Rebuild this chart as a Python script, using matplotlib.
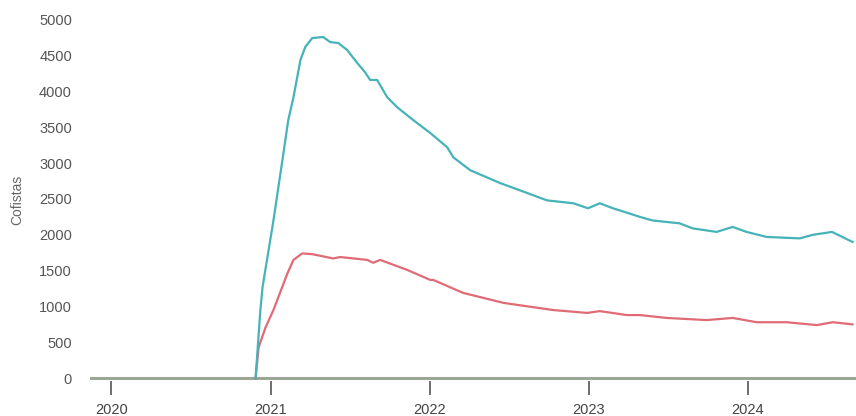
import numpy as np
import pandas as pd
import matplotlib
matplotlib.use("Agg")
import matplotlib.pyplot as plt

plt.rcParams['font.family'] = ['Liberation Sans', 'DejaVu Sans']

# teal series (upper)
teal_dates = ["2020-11-27", "2020-12-08", "2020-12-13", "2021-01-07", "2021-01-30",
              "2021-02-10", "2021-02-22", "2021-03-10", "2021-03-21", "2021-04-06",
              "2021-05-01", "2021-05-17", "2021-06-05", "2021-06-25", "2021-07-18",
              "2021-08-05", "2021-08-17", "2021-09-02", "2021-09-25", "2021-10-18",
              "2021-11-24", "2022-01-02", "2022-02-10", "2022-02-24", "2022-04-04",
              "2022-06-12", "2022-07-27", "2022-09-27", "2022-11-26", "2022-12-30",
              "2023-01-26", "2023-02-25", "2023-03-13", "2023-04-28", "2023-05-27",
              "2023-07-28", "2023-08-27", "2023-10-21", "2023-11-27", "2023-12-29",
              "2024-02-13", "2024-04-29", "2024-05-29", "2024-07-12", "2024-08-28"]
teal_vals = [0, 950, 1270, 2200, 3140,
             3600, 3920, 4440, 4620, 4745,
             4760, 4690, 4675, 4580, 4400,
             4270, 4160, 4160, 3920, 3780,
             3600, 3420, 3220, 3080, 2900,
             2720, 2620, 2480, 2440, 2370,
             2440, 2370, 2340, 2250, 2200,
             2160, 2090, 2040, 2110, 2040,
             1970, 1950, 2000, 2040, 1900]

# red series (lower)
red_dates = ["2020-11-27", "2020-12-04", "2020-12-20", "2021-01-07", "2021-02-08",
             "2021-02-22", "2021-03-14", "2021-04-06", "2021-05-24", "2021-06-09",
             "2021-08-10", "2021-08-24", "2021-09-09", "2021-11-10", "2022-01-02",
             "2022-01-09", "2022-03-18", "2022-06-19", "2022-10-11", "2022-12-28",
             "2023-01-26", "2023-03-29", "2023-04-28", "2023-06-28", "2023-09-28",
             "2023-11-27", "2024-01-21", "2024-03-30", "2024-06-07", "2024-07-14",
             "2024-08-28"]
red_vals = [0, 430, 710, 950, 1460,
            1650, 1740, 1730, 1670, 1690,
            1650, 1610, 1650, 1510, 1370,
            1370, 1190, 1050, 950, 910,
            935, 880, 880, 840, 810,
            840, 780, 780, 740, 780,
            750]

base_dates = ["2019-11-10", "2024-09-10"]
base_vals = [0, 0]

year_ticks = ["2020", "2021", "2022", "2023", "2024"]

fig = plt.figure(figsize=(8.56, 4.16), dpi=100)
ax = fig.add_axes([90/856, 1 - 381/416, 1 - 90/856, (381 - 18)/416])

ax.plot(pd.to_datetime(base_dates), base_vals, color='#9ba696', lw=2.2, zorder=1)
ax.plot(pd.to_datetime(red_dates), red_vals, color='#e06b76', lw=1.6, zorder=2)
ax.plot(pd.to_datetime(teal_dates), teal_vals, color='#45b3b8', lw=1.6, zorder=3)

ax.set_xlim(pd.Timestamp("2019-11-13"), pd.Timestamp("2024-09-05"))
ax.set_ylim(-40, 5025)
ax.set_yticks(np.arange(0, 5001, 500))
ax.set_xticks(pd.to_datetime([y + "-01-01" for y in year_ticks]))
ax.set_xticklabels(year_ticks)

for s in ax.spines.values():
    s.set_visible(False)
ax.tick_params(axis='y', length=0, pad=13, labelsize=10.5, labelcolor='#555555')
ax.tick_params(axis='x', length=10, width=1.2, color='#555555', pad=6,
               labelsize=10.5, labelcolor='#444444')
ax.set_ylabel("Cofistas", fontsize=10, color='#666666')
ax.yaxis.set_label_coords(-66/766, 0.5)

fig.savefig("out.png", dpi=100)
